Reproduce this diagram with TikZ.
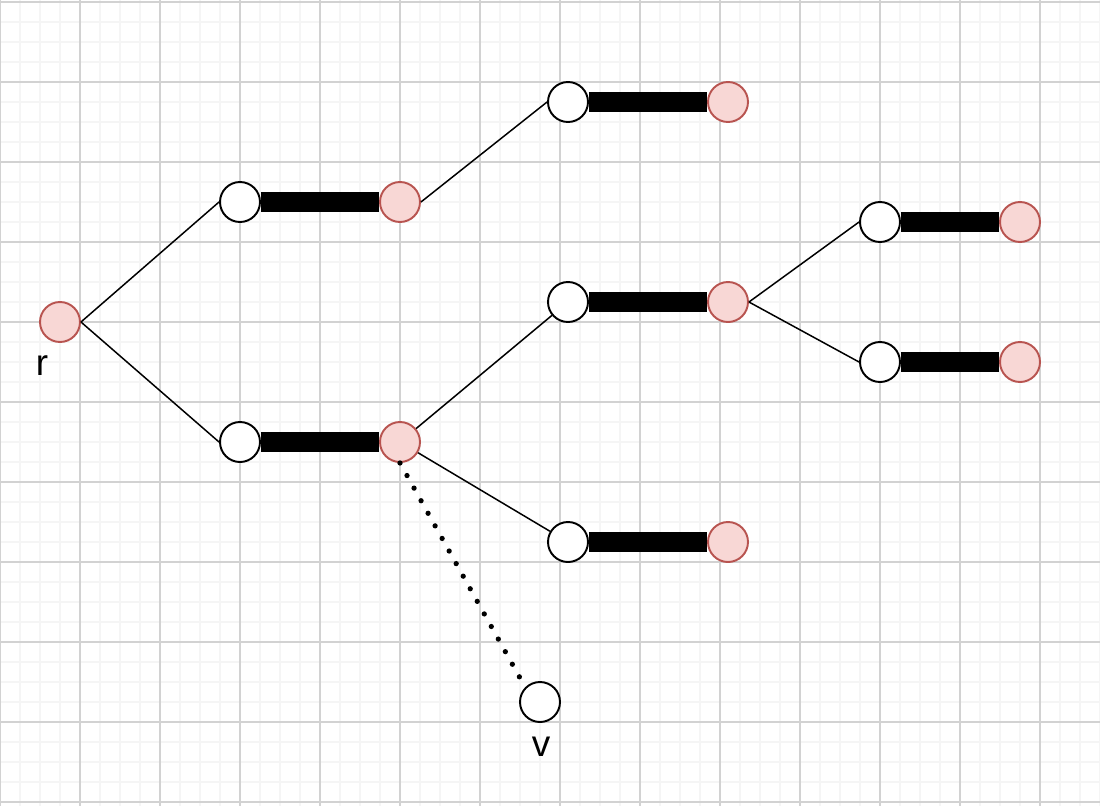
\documentclass[tikz,border=0pt]{standalone}
\usepackage{fontspec}
\setmainfont{Liberation Sans}
\definecolor{leafred}{RGB}{248,215,213}
\definecolor{edgered}{RGB}{184,84,80}
\definecolor{minorgrid}{RGB}{245,245,245}
\definecolor{majorgrid}{RGB}{210,210,210}

\begin{document}
\begin{tikzpicture}[x=0.02cm,y=-0.02cm,
    wnode/.style={circle, draw=black, fill=white, line width=1.1pt, minimum size=0.8cm, inner sep=0pt},
    pnode/.style={circle, draw=edgered, fill=leafred, line width=1.1pt, minimum size=0.8cm, inner sep=0pt},
    heavy/.style={line width=0.4cm},
    thin/.style={line width=0.85pt},
    lbl/.style={font=\fontsize{21pt}{25pt}\selectfont, inner sep=0pt, anchor=base}]
  \useasboundingbox (0,0) rectangle (1100,806);
  % grid
  \foreach \x in {0,20,...,1100} \draw[minorgrid, line width=0.9pt] (\x,0) -- (\x,806);
  \foreach \y in {2,22,...,806} \draw[minorgrid, line width=0.9pt] (0,\y) -- (1100,\y);
  \foreach \x in {0,80,...,1100} \draw[majorgrid, line width=0.6pt] (\x,0) -- (\x,806);
  \foreach \y in {2,82,...,806} \draw[majorgrid, line width=0.6pt] (0,\y) -- (1100,\y);

  % nodes
  \node[pnode] (r) at (60,322) {};
  \node[wnode] (w1) at (240,202) {};
  \node[pnode] (p1) at (400,202) {};
  \node[wnode] (w2) at (240,442) {};
  \node[pnode] (p2) at (400,442) {};
  \node[wnode] (w3) at (568,102) {};
  \node[pnode] (p3) at (728,102) {};
  \node[wnode] (w4) at (568,302) {};
  \node[pnode] (p4) at (728,302) {};
  \node[wnode] (w5) at (568,542) {};
  \node[pnode] (p5) at (728,542) {};
  \node[wnode] (w6) at (880,222) {};
  \node[pnode] (p6) at (1020,222) {};
  \node[wnode] (w7) at (880,362) {};
  \node[pnode] (p7) at (1020,362) {};
  \node[wnode] (v) at (540,702) {};

  % matched edges
  \foreach \i in {1,...,7}
    \draw[heavy] (w\i.east) -- (p\i.west);

  % tree edges
  \draw[thin] (r.east) -- (w1.west);
  \draw[thin] (r.east) -- (w2.west);
  \draw[thin] (p1.east) -- (w3.west);
  \draw[thin] (p2) -- (w4);
  \draw[thin] (p2) -- (w5);
  \draw[thin] (p4.east) -- (w6.west);
  \draw[thin] (p4.east) -- (w7.west);
  \draw[line width=3pt, line cap=round, dash pattern=on 0pt off 8.2pt]
    (p2.south) -- (v.north west);

  % labels
  \node[lbl] (rlabel) at (42,375) {r};
  \node[lbl] (vlabel) at (541,756) {v};
\end{tikzpicture}
\end{document}
